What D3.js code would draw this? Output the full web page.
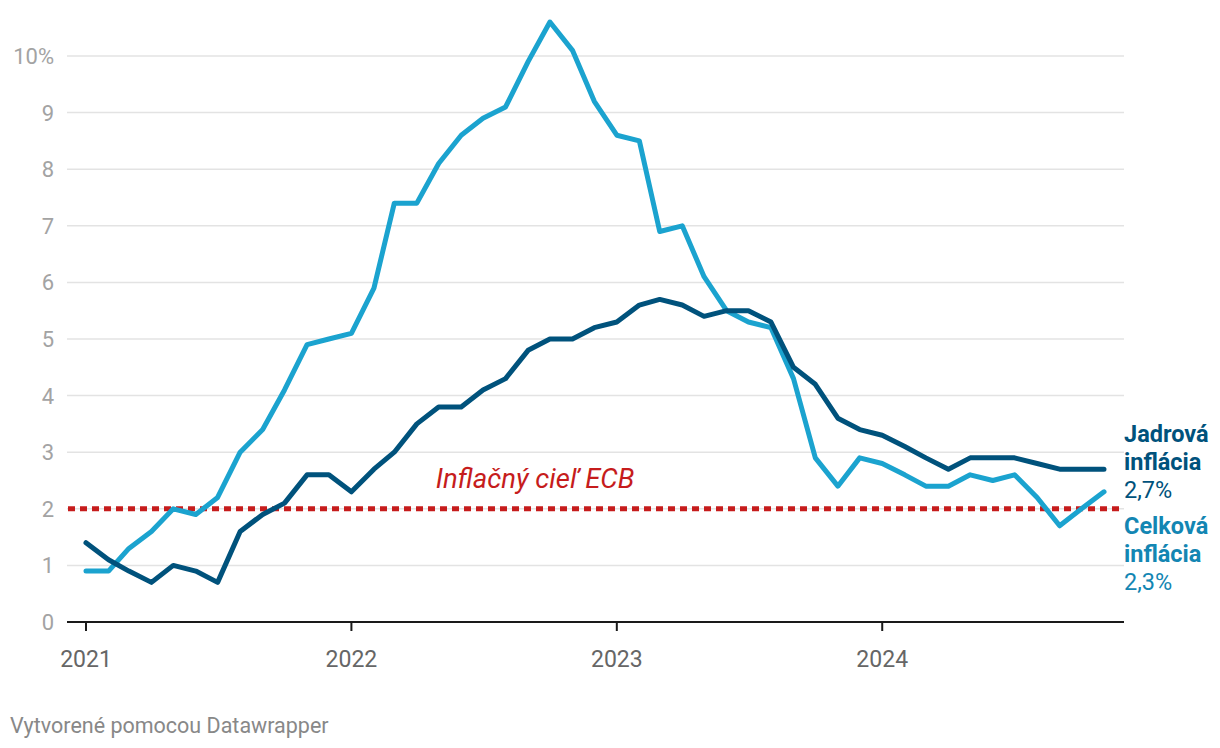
<html>
<head>
<style>
body { margin: 0; padding: 0; background: #fff; font-family: Roboto, sans-serif; }
svg text { font-family: Roboto, sans-serif; }
</style>
<script src="https://cdnjs.cloudflare.com/ajax/libs/d3/7.8.5/d3.min.js"></script>
</head>
<body>
<svg id="chart" width="1220" height="748"></svg>
<script>
var width = 1220, height = 748

// monthly from 2021-01 to 2024-11
var months = d3.timeMonths(new Date(2021, 0, 1), new Date(2024, 11, 1))

var headline = [
  0.9, 0.9, 1.3, 1.6, 2.0, 1.9, 2.2, 3.0, 3.4, 4.1, 4.9, 5.0,
  5.1, 5.9, 7.4, 7.4, 8.1, 8.6, 8.9, 9.1, 9.9, 10.6, 10.1, 9.2,
  8.6, 8.5, 6.9, 7.0, 6.1, 5.5, 5.3, 5.2, 4.3, 2.9, 2.4, 2.9,
  2.8, 2.6, 2.4, 2.4, 2.6, 2.5, 2.6, 2.2, 1.7, 2.0, 2.3
]
var core = [
  1.4, 1.1, 0.9, 0.7, 1.0, 0.9, 0.7, 1.6, 1.9, 2.1, 2.6, 2.6,
  2.3, 2.7, 3.0, 3.5, 3.8, 3.8, 4.1, 4.3, 4.8, 5.0, 5.0, 5.2,
  5.3, 5.6, 5.7, 5.6, 5.4, 5.5, 5.5, 5.3, 4.5, 4.2, 3.6, 3.4,
  3.3, 3.1, 2.9, 2.7, 2.9, 2.9, 2.9, 2.8, 2.7, 2.7, 2.7
]
var yTicks = [0, 1, 2, 3, 4, 5, 6, 7, 8, 9, 10]
var xTicks = [2021, 2022, 2023, 2024]
var target = 2

var svg = d3.select('#chart')

var x = d3.scaleTime()
  .domain([new Date(2021, 0, 1), new Date(2024, 10, 1)])
  .range([86, 1104])
var y = d3.scaleLinear().domain([0, 10]).range([622, 56])

var gridLeft = 67, gridRight = 1124

// gridlines
svg.append('g')
  .selectAll('line')
  .data(yTicks.filter(function(d) { return d > 0 }))
  .join('line')
  .attr('x1', gridLeft).attr('x2', gridRight)
  .attr('y1', function(d) { return y(d) })
  .attr('y2', function(d) { return y(d) })
  .attr('stroke', '#e3e3e3')
  .attr('stroke-width', 1.5)

// y labels
svg.append('g')
  .selectAll('text')
  .data(yTicks)
  .join('text')
  .attr('x', 54)
  .attr('y', function(d) { return y(d) + 8 })
  .attr('text-anchor', 'end')
  .attr('fill', '#a3a3a3')
  .attr('font-size', 22)
  .text(function(d) { return d === 10 ? '10%' : d })

// x axis
svg.append('line')
  .attr('x1', gridLeft).attr('x2', gridRight)
  .attr('y1', y(0)).attr('y2', y(0))
  .attr('stroke', '#1a1a1a').attr('stroke-width', 2)

var xt = svg.append('g')
  .selectAll('g')
  .data(xTicks)
  .join('g')
  .attr('transform', function(d) { return 'translate(' + x(new Date(d, 0, 1)) + ',0)' })
xt.append('line')
  .attr('y1', y(0)).attr('y2', y(0) + 9)
  .attr('stroke', '#1a1a1a').attr('stroke-width', 2)
xt.append('text')
  .attr('y', 667)
  .attr('text-anchor', 'middle')
  .attr('fill', '#666')
  .attr('font-size', 23)
  .text(function(d) { return d })

// target line
svg.append('line')
  .attr('x1', gridLeft + 1).attr('x2', gridRight)
  .attr('y1', y(target)).attr('y2', y(target))
  .attr('stroke', '#c61c1c')
  .attr('stroke-width', 5)
  .attr('stroke-dasharray', '7,5')

svg.append('text')
  .attr('x', 535).attr('y', 488)
  .attr('text-anchor', 'middle')
  .attr('fill', '#c61c1c')
  .attr('font-size', 27.5)
  .attr('font-style', 'italic')
  .text('Inflačný cieľ ECB')

var line = d3.line()
  .x(function(d, i) { return x(months[i]) })
  .y(function(d) { return y(d) })

svg.append('path')
  .datum(headline)
  .attr('d', line)
  .attr('fill', 'none')
  .attr('stroke', '#1ba3cf')
  .attr('stroke-width', 5)
  .attr('stroke-linejoin', 'round')
  .attr('stroke-linecap', 'round')

svg.append('path')
  .datum(core)
  .attr('d', line)
  .attr('fill', 'none')
  .attr('stroke', '#00527c')
  .attr('stroke-width', 5)
  .attr('stroke-linejoin', 'round')
  .attr('stroke-linecap', 'round')

// end labels
function endLabel(top, color, lines) {
  var t = svg.append('text')
    .attr('x', 1124)
    .attr('fill', color)
    .attr('font-size', 23.5)
  lines.forEach(function(l, i) {
    t.append('tspan')
      .attr('x', 1124)
      .attr('y', top + i * 28)
      .attr('font-weight', l.bold ? 700 : 400)
      .text(l.text)
  })
}
endLabel(442, '#00527c', [
  {text: 'Jadrová', bold: true},
  {text: 'inflácia', bold: true},
  {text: '2,7%', bold: false}
])
endLabel(534, '#1386b3', [
  {text: 'Celková', bold: true},
  {text: 'inflácia', bold: true},
  {text: '2,3%', bold: false}
])

svg.append('text')
  .attr('x', 10).attr('y', 733)
  .attr('fill', '#888')
  .attr('font-size', 21.5)
  .text('Vytvorené pomocou Datawrapper')
</script>
</body>
</html>
